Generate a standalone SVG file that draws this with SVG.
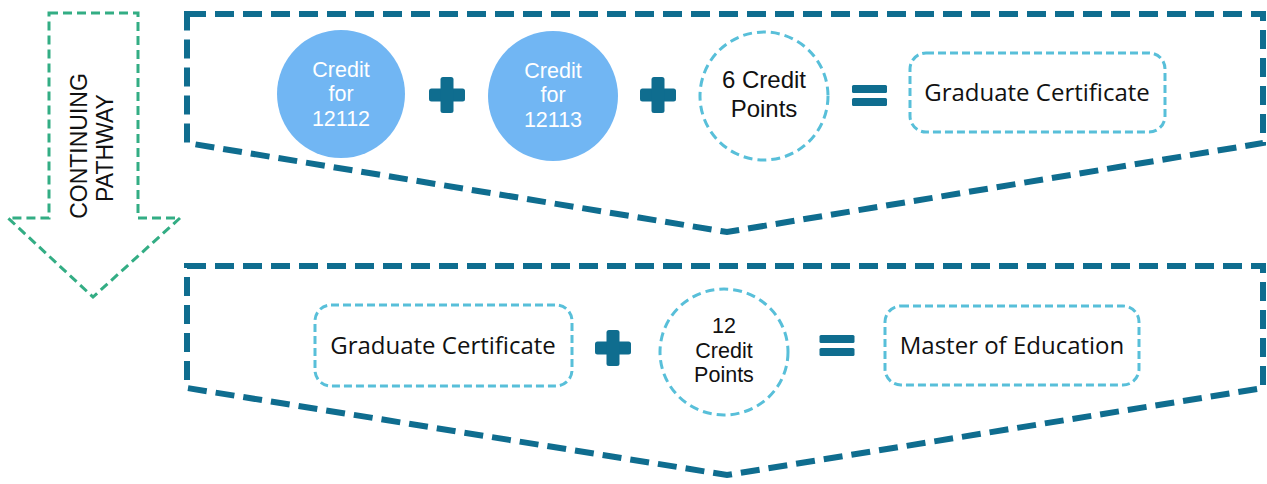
<svg xmlns="http://www.w3.org/2000/svg" width="1267" height="484" viewBox="0 0 1267 484">
<style>
.chev{fill:none;stroke:#0f6d8f;stroke-width:6;stroke-dasharray:19 9;stroke-linejoin:miter}
.arrow{fill:none;stroke:#33ad84;stroke-width:3;stroke-dasharray:9 5}
.solid{fill:#71b6f3}
.dcirc{fill:none;stroke:#58bfd9;stroke-width:3;stroke-dasharray:9 5}
.dbox{fill:none;stroke:#58bfd9;stroke-width:3;stroke-dasharray:8 4}
.op{fill:#0f6d8f}
.wt{font-family:"Liberation Sans",Arial,sans-serif;font-size:21.5px;fill:#ffffff;text-anchor:middle}
.bt{font-family:"Liberation Sans",Arial,sans-serif;font-size:21.5px;fill:#111111;text-anchor:middle}
.bt2{font-family:"Liberation Sans",Arial,sans-serif;font-size:24px;fill:#111111;text-anchor:middle}
.lt{font-family:"Open Sans","Liberation Sans",sans-serif;font-size:24px;fill:#111111;text-anchor:middle}
.vt{font-family:"Liberation Sans",Arial,sans-serif;font-size:23px;fill:#111111;text-anchor:middle}
</style>
<defs>
<g id="plus"><rect x="-18" y="-6.5" width="36" height="13" rx="2.5"/><rect x="-6.5" y="-18" width="13" height="36" rx="2.5"/></g>
<g id="eq"><rect x="-17.5" y="-10" width="35" height="8" rx="1.5"/><rect x="-17.5" y="3" width="35" height="8" rx="1.5"/></g>
</defs>
<g id="connectors">
<path class="chev" d="M187,14 L1263,14 L1263,143 L727,232 L187,143 Z"/>
<path class="chev" d="M187,266 L1263,266 L1263,388 L727,475 L187,388 Z"/>
</g>
<g id="continuing-pathway">
<path class="arrow" d="M49,13 L138,13 L138,218 L180,218 L93,297 L8,218 L49,218 Z"/>
<text class="vt" transform="translate(87,146) rotate(-90)">CONTINUING</text>
<text class="vt" transform="translate(113,148) rotate(-90)">PATHWAY</text>
</g>
<g id="credit-12112">
<circle class="solid" cx="341" cy="94" r="64"/>
<text class="wt" x="341" y="76.5">Credit</text>
<text class="wt" x="341" y="101">for</text>
<text class="wt" x="341" y="125.5">12112</text>
</g>
<g id="plus-1" class="op"><use href="#plus" x="447" y="95"/></g>
<g id="credit-12113">
<circle class="solid" cx="553" cy="96" r="65"/>
<text class="wt" x="553" y="77.5">Credit</text>
<text class="wt" x="553" y="102">for</text>
<text class="wt" x="553" y="126.5">12113</text>
</g>
<g id="plus-2" class="op"><use href="#plus" x="658" y="95"/></g>
<g id="six-credit-points">
<circle class="dcirc" cx="764" cy="96" r="64"/>
<text class="bt2" x="764" y="88">6 Credit</text>
<text class="bt2" x="764" y="117">Points</text>
</g>
<g id="equals-1" class="op"><use href="#eq" x="869.5" y="95"/></g>
<g id="grad-cert-1">
<rect class="dbox" x="910" y="53" width="255" height="79" rx="16"/>
<text class="lt" x="1037" y="101">Graduate Certificate</text>
</g>
<g id="grad-cert-2">
<rect class="dbox" x="315" y="305" width="257" height="81" rx="16"/>
<text class="lt" x="443" y="354">Graduate Certificate</text>
</g>
<g id="plus-3" class="op"><use href="#plus" x="613" y="348"/></g>
<g id="twelve-credit-points">
<ellipse class="dcirc" cx="724" cy="352" rx="64" ry="63"/>
<text class="bt" x="724" y="333">12</text>
<text class="bt" x="724" y="357.5">Credit</text>
<text class="bt" x="724" y="382">Points</text>
</g>
<g id="equals-2" class="op"><use href="#eq" x="837" y="345"/></g>
<g id="master-education">
<rect class="dbox" x="885" y="306" width="254" height="79" rx="16"/>
<text class="lt" x="1012" y="354">Master of Education</text>
</g>
</svg>
